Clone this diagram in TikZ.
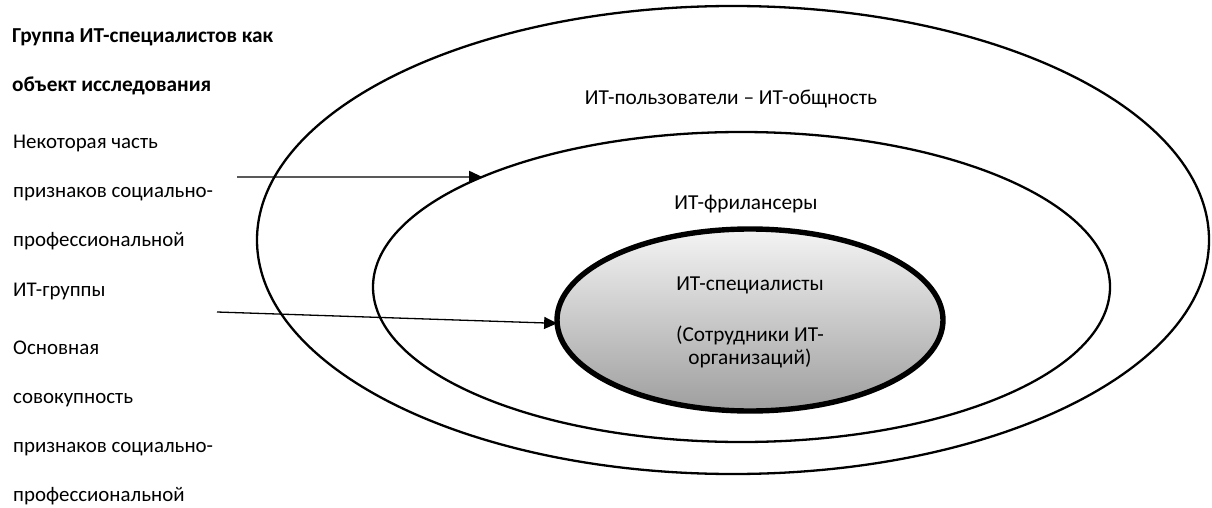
\documentclass[tikz,border=0pt]{standalone}
\usepackage{fontspec}
\setmainfont{Carlito}
\usepackage{xcolor}
\definecolor{colorl}{RGB}{0,0,0}
\definecolor{colort}{RGB}{244,244,244}
\definecolor{colorb}{RGB}{158,158,158}
\usepackage{tikz}
\usetikzlibrary{arrows.meta,shapes.geometric}
\tikzstyle{ring} = [ellipse, draw=colorl, line width=2.3pt, inner sep=0pt, outer sep=0pt]
\tikzstyle{core} = [ellipse, draw=colorl, line width=5.4pt, inner sep=0pt, outer sep=0pt, top color=colort, bottom color=colorb]
\tikzstyle{caption} = [anchor=base, inner sep=0pt, font=\fontsize{21.3}{25}\selectfont]
\tikzstyle{sidetext} = [anchor=base west, inner sep=0pt, font=\fontsize{20.9}{25}\selectfont]
\tikzstyle{pointer} = [-{Triangle[length=13pt,width=12pt]}, line width=1.3pt, draw=colorl]

\begin{document}
\begin{tikzpicture}[x=1pt,y=-1pt]
  \useasboundingbox (0,0) rectangle (1212,508);

  \node[ring, minimum width=952pt, minimum height=468pt] (users) at (733,240) {};
  \node[ring, minimum width=737pt, minimum height=310pt] (free) at (741.5,287) {};
  \node[core, minimum width=386pt, minimum height=182pt] (spec) at (750,320) {};

  \node[caption] (usersL) at (731,105) {ИТ-пользователи – ИТ-общность};
  \node[caption] (freeL) at (746,209) {ИТ-фрилансеры};
  \node[caption] (specL) at (750,290) {ИТ-специалисты};
  \node[caption] (staffA) at (750,341) {(Сотрудники ИТ-};
  \node[caption] (staffB) at (750,364) {организаций)};

  %left column
  \node[sidetext, font=\fontsize{21.3}{25}\selectfont\bfseries] (head1) at (12,43) {Группа ИТ-специалистов как};
  \node[sidetext, font=\fontsize{21.3}{25}\selectfont\bfseries] (head2) at (12,92) {объект исследования};

  \foreach \t [count=\i] in {Некоторая часть, признаков социально-, профессиональной, ИТ-группы}
  \node[sidetext] (part\i) at (13,{148+49.4*(\i-1)}) {\t};

  \foreach \t [count=\i] in {Основная, совокупность, признаков социально-, профессиональной}
  \node[sidetext] (base\i) at (13,{354+49.3*(\i-1)}) {\t};

  \coordinate (startA) at (237,177);
  \coordinate (startB) at (217,312);
  \draw[pointer] (startA) -- (free.157);
  \draw[pointer] (startB) -- (spec.181);
\end{tikzpicture}
\end{document}
